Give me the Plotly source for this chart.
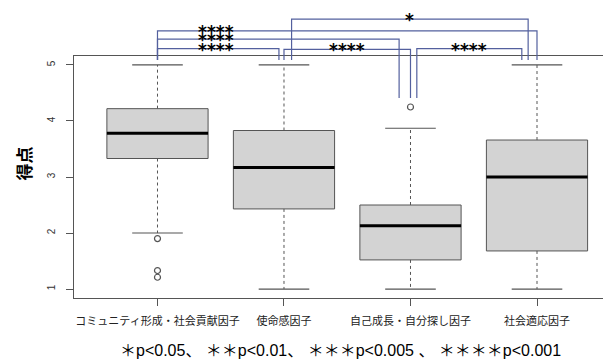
import plotly.graph_objects as go

# ---------------- data ----------------
categories = ["コミュニティ形成・社会貢献因子", "使命感因子", "自己成長・自分探し因子", "社会適応因子"]
q1 = [3.33, 2.43, 1.52, 1.68]
medians = [3.78, 3.17, 2.13, 3.00]
q3 = [4.22, 3.83, 2.50, 3.66]
whisker_low = [2.00, 1.00, 1.00, 1.00]
whisker_high = [5.00, 5.00, 3.87, 5.00]
outlier_group = [1, 1, 1, 3]
outlier_values = [1.90, 1.33, 1.21, 4.25]
y_ticks = [1, 2, 3, 4, 5]

# pairwise comparisons (group indices) and significance labels
cmp_left = [1, 1, 1, 2, 2, 3]
cmp_right = [4, 3, 2, 4, 3, 4]
cmp_labels = ["****", "****", "****", "*", "****", "****"]
footnote = "＊p<0.05、 ＊＊p<0.01、 ＊＊＊p<0.005 、 ＊＊＊＊p<0.001"
y_title = "得点"

# ---------------- layout geometry / style ----------------
W, H = 611, 359
OFF = 8            # page body margin of the browser
PL, PT, PB = 74, 56, 298   # plot area edges in screen pixels
PW = 537
ML = PL - OFF
MT = PT - OFF
MB = H - (PB - OFF)
MR = W - ML - PW
XR = [0.34, 4.585]
YR = [0.84, 5.16]
BOX_HALF = 0.4
CAP_HALF = 0.2
LINE_C = "#555555"
BR_C = "#53609e"

# bracket drawing style: left/right x offsets, height, end depth of legs, label pos
br_left_off = [0.0, 0.0, 0.0, 0.06, 0.0, 0.05]
br_right_off = [0.0, -0.09, -0.04, -0.07, 0.0, -0.12]
br_height = [5.61, 5.46, 5.29, 5.82, 5.28, 5.29]
br_left_end = [5.09, 5.09, 5.09, 5.09, 5.09, 4.41]
br_right_end = [5.09, 4.41, 5.09, 5.09, 4.41, 5.09]
br_label_x = [1.46, 1.46, 1.46, None, None, None]


def xp(v):
    return (v - XR[0]) / (XR[1] - XR[0])


def yp(v):
    return (v - YR[0]) / (YR[1] - YR[0])


def sx(px):
    # screen x pixel -> paper
    return (px - PL) / PW


def sy(py):
    # screen y pixel -> paper
    return (PB - py) / (PB - PT)


fig = go.Figure()

for i in range(len(categories)):
    c = i + 1
    fig.add_trace(go.Scatter(
        x=[c - BOX_HALF, c + BOX_HALF, c + BOX_HALF, c - BOX_HALF, c - BOX_HALF],
        y=[q1[i], q1[i], q3[i], q3[i], q1[i]],
        mode="lines", fill="toself", fillcolor="#d3d3d3",
        line=dict(color=LINE_C, width=1), hoverinfo="skip", showlegend=False))
    fig.add_trace(go.Scatter(
        x=[c, c, None, c, c], y=[q3[i], whisker_high[i], None, q1[i], whisker_low[i]],
        mode="lines", line=dict(color=LINE_C, width=1, dash="3px,3px"),
        hoverinfo="skip", showlegend=False))
    fig.add_trace(go.Scatter(
        x=[c - CAP_HALF, c + CAP_HALF, None, c - CAP_HALF, c + CAP_HALF],
        y=[whisker_high[i], whisker_high[i], None, whisker_low[i], whisker_low[i]],
        mode="lines", line=dict(color=LINE_C, width=1.2),
        hoverinfo="skip", showlegend=False))
    fig.add_trace(go.Scatter(
        x=[c - BOX_HALF, c + BOX_HALF], y=[medians[i], medians[i]],
        mode="lines", line=dict(color="black", width=3),
        hoverinfo="skip", showlegend=False))

fig.add_trace(go.Scatter(
    x=outlier_group, y=outlier_values, mode="markers",
    marker=dict(symbol="circle-open", size=6, color=LINE_C, line=dict(width=1.2)),
    hoverinfo="skip", showlegend=False))

shapes = []
annotations = []
for k in range(len(cmp_left)):
    xa = cmp_left[k] + br_left_off[k]
    xb = cmp_right[k] + br_right_off[k]
    yh = br_height[k]
    path = "M {:.5f} {:.5f} L {:.5f} {:.5f} L {:.5f} {:.5f} L {:.5f} {:.5f}".format(
        xp(xa), yp(br_left_end[k]), xp(xa), yp(yh), xp(xb), yp(yh), xp(xb), yp(br_right_end[k]))
    shapes.append(dict(type="path", xref="paper", yref="paper", path=path,
                       line=dict(color=BR_C, width=1.2), layer="above"))
    lx = br_label_x[k] if br_label_x[k] is not None else (xa + xb) / 2
    annotations.append(dict(
        x=xp(lx), y=yp(yh), xref="paper", yref="paper", text="<b>" + cmp_labels[k] + "</b>",
        showarrow=False, xanchor="center", yanchor="middle", yshift=-1,
        font=dict(family="DejaVu Sans", size=17, color="black")))

annotations.append(dict(
    x=sx(22.5), y=sy(164), xref="paper", yref="paper",
    text="<b>" + y_title + "</b>", textangle=-90, showarrow=False,
    xanchor="center", yanchor="middle",
    font=dict(family="Noto Sans CJK JP", size=17, color="black")))

annotations.append(dict(
    x=sx(340), y=sy(350), xref="paper", yref="paper",
    text=footnote, showarrow=False, xanchor="center", yanchor="middle",
    font=dict(family="Liberation Sans, Noto Sans CJK JP", size=16, color="black")))

fig.update_layout(
    width=W, height=H,
    margin=dict(l=ML, r=MR, t=MT, b=MB, autoexpand=False),
    paper_bgcolor="white", plot_bgcolor="white",
    showlegend=False, shapes=shapes, annotations=annotations,
    xaxis=dict(range=XR, tickmode="array", tickvals=[1, 2, 3, 4], ticktext=categories,
               showgrid=False, zeroline=False, showline=True, mirror=True,
               linecolor=LINE_C, linewidth=1, ticks="outside", ticklen=7, tickcolor=LINE_C,
               ticklabelstandoff=6,
               tickfont=dict(family="Noto Sans CJK JP", size=11, color="#222222"),
               automargin=False, fixedrange=True),
    yaxis=dict(range=YR, tickmode="array", tickvals=y_ticks, ticktext=[str(t) for t in y_ticks],
               showgrid=False, zeroline=False, showline=True, mirror=False,
               linecolor=LINE_C, linewidth=1, ticks="outside", ticklen=7, tickcolor=LINE_C,
               ticklabelstandoff=7,
               tickangle=-90, tickfont=dict(family="Liberation Sans", size=10, color="#333333"),
               automargin=False, fixedrange=True),
)

fig.write_html("out.html")
